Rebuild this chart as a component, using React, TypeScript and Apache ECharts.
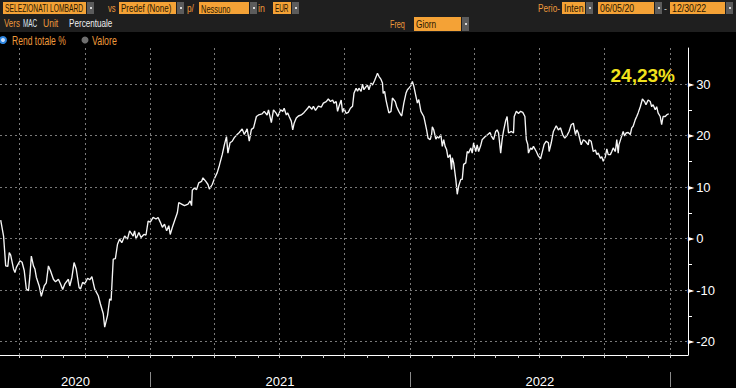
import React, { useEffect, useRef } from "react";
import * as echarts from "echarts";

// Total return (%) — SELEZIONATI LOMBARD, 06/05/20 – 12/30/22
const returns2020: [string, number][] = [
  ["2020-06-05", 3.6], ["2020-06-09", 0.5], ["2020-06-12", -5.3], ["2020-06-15", -5.4], ["2020-06-17", -2.7],
  ["2020-06-19", -3.2], ["2020-06-23", -5.9], ["2020-06-25", -6.6], ["2020-06-27", -5.6], ["2020-07-02", -4.3],
  ["2020-07-05", -4.6], ["2020-07-08", -6.2], ["2020-07-11", -9.8], ["2020-07-14", -10.1], ["2020-07-16", -7.2],
  ["2020-07-18", -3.4], ["2020-07-21", -5.3], ["2020-07-23", -5.9], ["2020-07-25", -7.5], ["2020-07-29", -9.2],
  ["2020-08-01", -11.2], ["2020-08-05", -9.2], ["2020-08-08", -8.6], ["2020-08-11", -5.3], ["2020-08-14", -6.3],
  ["2020-08-18", -7.9], ["2020-08-21", -8.4], ["2020-08-25", -7.9], ["2020-08-28", -8.8], ["2020-08-31", -9.9],
  ["2020-09-03", -8.8], ["2020-09-08", -7.9], ["2020-09-10", -9.2], ["2020-09-13", -7.5], ["2020-09-16", -4.65],
  ["2020-09-19", -5.9], ["2020-09-23", -9.5], ["2020-09-25", -9.8], ["2020-09-28", -8.5], ["2020-10-01", -8.8],
  ["2020-10-05", -7.7], ["2020-10-08", -8.0], ["2020-10-11", -7.4], ["2020-10-15", -9.8], ["2020-10-20", -11.1],
  ["2020-10-23", -12.7], ["2020-10-27", -14.6], ["2020-10-29", -17.2], ["2020-11-02", -14.9], ["2020-11-05", -11.7],
  ["2020-11-07", -12.0], ["2020-11-10", -4.0], ["2020-11-13", -3.9], ["2020-11-16", -1.1], ["2020-11-19", -0.1],
  ["2020-11-22", -0.8], ["2020-11-26", 0.5], ["2020-11-30", -0.1], ["2020-12-03", 1.5], ["2020-12-08", 0.5],
  ["2020-12-10", 1.5], ["2020-12-12", -0.1], ["2020-12-16", 1.2], ["2020-12-19", 0.2], ["2020-12-23", 0.8],
  ["2020-12-26", 0.7], ["2020-12-29", 3.4],
];

const returns2021: [string, number][] = [
  ["2021-01-01", 3.2], ["2021-01-05", 4.1], ["2021-01-09", 3.8], ["2021-01-12", 4.1], ["2021-01-15", 3.2],
  ["2021-01-18", 2.2], ["2021-01-21", 2.8], ["2021-01-24", 1.5], ["2021-01-27", 2.5], ["2021-01-29", 0.8],
  ["2021-02-01", 2.2], ["2021-02-04", 3.4], ["2021-02-08", 5.0], ["2021-02-10", 7.0], ["2021-02-14", 6.7],
  ["2021-02-18", 6.4], ["2021-02-23", 6.7], ["2021-02-26", 7.3], ["2021-02-28", 6.4], ["2021-03-01", 9.4],
  ["2021-03-04", 9.8], ["2021-03-07", 9.5], ["2021-03-10", 10.8], ["2021-03-14", 11.1], ["2021-03-16", 11.8],
  ["2021-03-20", 11.1], ["2021-03-23", 10.5], ["2021-03-25", 9.6], ["2021-03-29", 10.5], ["2021-04-01", 11.6],
  ["2021-04-05", 12.8], ["2021-04-08", 14.2], ["2021-04-12", 16.3], ["2021-04-15", 18.2], ["2021-04-18", 19.8],
  ["2021-04-20", 16.6], ["2021-04-23", 18.6], ["2021-04-26", 18.9], ["2021-04-29", 19.6], ["2021-05-03", 20.2],
  ["2021-05-06", 20.6], ["2021-05-10", 21.3], ["2021-05-13", 20.2], ["2021-05-17", 21.3], ["2021-05-20", 18.9],
  ["2021-05-23", 21.2], ["2021-05-26", 21.5], ["2021-05-30", 23.7], ["2021-06-02", 24.0], ["2021-06-07", 24.2],
  ["2021-06-10", 24.7], ["2021-06-14", 24.0], ["2021-06-16", 25.0], ["2021-06-20", 22.5], ["2021-06-23", 25.0],
  ["2021-06-27", 24.3], ["2021-06-29", 23.7], ["2021-07-03", 25.0], ["2021-07-06", 24.7], ["2021-07-08", 25.3],
  ["2021-07-11", 24.0], ["2021-07-13", 24.4], ["2021-07-15", 23.7], ["2021-07-18", 22.8], ["2021-07-20", 21.1],
  ["2021-07-22", 22.4], ["2021-07-25", 23.4], ["2021-07-28", 23.8], ["2021-08-01", 24.0], ["2021-08-05", 24.5],
  ["2021-08-10", 25.3], ["2021-08-12", 25.7], ["2021-08-16", 25.1], ["2021-08-18", 25.7], ["2021-08-21", 24.9],
  ["2021-08-25", 25.7], ["2021-08-29", 25.5], ["2021-09-01", 26.3], ["2021-09-05", 26.6], ["2021-09-08", 27.1],
  ["2021-09-11", 26.6], ["2021-09-14", 26.9], ["2021-09-16", 26.3], ["2021-09-19", 26.6], ["2021-09-21", 24.7],
  ["2021-09-23", 25.7], ["2021-09-26", 26.9], ["2021-09-28", 24.5], ["2021-09-30", 25.3], ["2021-10-03", 24.3],
  ["2021-10-06", 24.5], ["2021-10-09", 25.3], ["2021-10-12", 25.7], ["2021-10-14", 28.2], ["2021-10-17", 29.2],
  ["2021-10-19", 28.6], ["2021-10-21", 29.2], ["2021-10-24", 28.6], ["2021-10-26", 30.0], ["2021-10-28", 28.9],
  ["2021-10-31", 29.5], ["2021-11-02", 29.8], ["2021-11-04", 28.9], ["2021-11-07", 30.2], ["2021-11-09", 29.8],
  ["2021-11-12", 30.7], ["2021-11-16", 32.1], ["2021-11-18", 31.5], ["2021-11-21", 30.9], ["2021-11-23", 30.2],
  ["2021-11-24", 28.2], ["2021-11-26", 28.6], ["2021-11-28", 26.9], ["2021-11-30", 25.6], ["2021-12-02", 24.4],
  ["2021-12-05", 24.7], ["2021-12-07", 27.3], ["2021-12-11", 26.6], ["2021-12-13", 25.6], ["2021-12-16", 24.7],
  ["2021-12-18", 24.2], ["2021-12-20", 23.8], ["2021-12-23", 26.3], ["2021-12-26", 28.2], ["2021-12-28", 28.9],
  ["2021-12-30", 29.2],
];

const returns2022: [string, number][] = [
  ["2022-01-02", 29.7], ["2022-01-04", 30.5], ["2022-01-06", 29.6], ["2022-01-09", 27.6], ["2022-01-11", 26.3],
  ["2022-01-13", 27.0], ["2022-01-16", 24.7], ["2022-01-20", 23.7], ["2022-01-21", 23.1], ["2022-01-24", 21.1],
  ["2022-01-26", 19.5], ["2022-01-29", 19.2], ["2022-01-31", 20.2], ["2022-02-01", 21.7], ["2022-02-03", 21.1],
  ["2022-02-06", 19.3], ["2022-02-08", 19.8], ["2022-02-10", 19.5], ["2022-02-13", 20.2], ["2022-02-15", 17.9],
  ["2022-02-17", 19.2], ["2022-02-19", 17.9], ["2022-02-21", 17.3], ["2022-02-23", 15.7], ["2022-02-26", 16.3],
  ["2022-02-28", 13.4], ["2022-03-01", 15.7], ["2022-03-03", 14.7], ["2022-03-06", 11.5], ["2022-03-08", 8.6],
  ["2022-03-10", 10.2], ["2022-03-13", 11.5], ["2022-03-15", 11.5], ["2022-03-17", 14.4], ["2022-03-20", 14.7],
  ["2022-03-22", 16.9], ["2022-03-24", 16.6], ["2022-03-27", 17.6], ["2022-03-29", 16.6], ["2022-03-31", 18.6],
  ["2022-04-03", 16.9], ["2022-04-05", 18.2], ["2022-04-07", 16.9], ["2022-04-10", 18.1], ["2022-04-12", 19.2],
  ["2022-04-14", 19.5], ["2022-04-17", 19.9], ["2022-04-20", 20.2], ["2022-04-23", 20.6], ["2022-04-25", 19.9],
  ["2022-04-28", 19.2], ["2022-05-01", 20.8], ["2022-05-03", 21.1], ["2022-05-05", 20.5], ["2022-05-08", 16.6],
  ["2022-05-10", 19.2], ["2022-05-12", 20.9], ["2022-05-15", 22.9], ["2022-05-17", 23.7], ["2022-05-19", 20.5],
  ["2022-05-23", 20.8], ["2022-05-26", 20.5], ["2022-05-27", 23.7], ["2022-05-30", 24.7], ["2022-06-02", 24.3],
  ["2022-06-05", 24.7], ["2022-06-08", 24.5], ["2022-06-11", 23.7], ["2022-06-13", 19.2], ["2022-06-15", 18.3],
  ["2022-06-16", 16.6], ["2022-06-19", 17.6], ["2022-06-21", 17.3], ["2022-06-23", 17.9], ["2022-06-27", 16.9],
  ["2022-06-30", 16.0], ["2022-07-03", 15.5], ["2022-07-05", 16.6], ["2022-07-08", 18.3], ["2022-07-11", 18.9],
  ["2022-07-14", 18.6], ["2022-07-15", 16.9], ["2022-07-18", 18.6], ["2022-07-21", 20.8], ["2022-07-25", 21.9],
  ["2022-07-28", 21.1], ["2022-07-31", 21.5], ["2022-08-03", 20.2], ["2022-08-06", 19.5], ["2022-08-09", 20.0],
  ["2022-08-12", 20.8], ["2022-08-15", 22.1], ["2022-08-18", 22.4], ["2022-08-21", 20.2], ["2022-08-23", 21.1],
  ["2022-08-25", 20.5], ["2022-08-29", 18.2], ["2022-09-01", 19.2], ["2022-09-04", 18.9], ["2022-09-08", 18.2],
  ["2022-09-09", 19.2], ["2022-09-12", 18.9], ["2022-09-15", 16.9], ["2022-09-18", 17.2], ["2022-09-20", 16.3],
  ["2022-09-22", 16.6], ["2022-09-25", 15.6], ["2022-09-27", 15.9], ["2022-09-29", 15.0], ["2022-10-02", 15.9],
  ["2022-10-04", 17.4], ["2022-10-06", 16.3], ["2022-10-09", 16.3], ["2022-10-11", 16.9], ["2022-10-13", 17.6],
  ["2022-10-16", 16.9], ["2022-10-18", 19.2], ["2022-10-20", 16.6], ["2022-10-21", 18.2], ["2022-10-24", 19.5],
  ["2022-10-27", 20.8], ["2022-10-29", 19.9], ["2022-10-31", 20.5], ["2022-11-03", 20.6], ["2022-11-06", 20.2],
  ["2022-11-08", 21.5], ["2022-11-10", 21.8], ["2022-11-13", 23.1], ["2022-11-15", 23.7], ["2022-11-17", 24.4],
  ["2022-11-20", 25.6], ["2022-11-23", 27.1], ["2022-11-26", 26.6], ["2022-11-28", 26.0], ["2022-12-01", 26.9],
  ["2022-12-04", 26.6], ["2022-12-06", 25.6], ["2022-12-08", 26.0], ["2022-12-11", 25.0], ["2022-12-13", 25.6],
  ["2022-12-15", 24.4], ["2022-12-18", 23.7], ["2022-12-20", 22.1], ["2022-12-22", 23.7], ["2022-12-25", 23.7],
  ["2022-12-27", 24.0], ["2022-12-30", 24.23],
];

const yMajorTicks = [-20, -10, 0, 10, 20, 30];
const yMinorTicks = [-20, -15, -10, -5, 0, 5, 10, 15, 20, 25, 30];
const quarterStarts = [
  "2020-07-01", "2020-10-01", "2021-01-01", "2021-04-01", "2021-07-01", "2021-10-01",
  "2022-01-01", "2022-04-01", "2022-07-01", "2022-10-01", "2023-01-01",
];
const yearStarts = ["2021-01-01", "2022-01-01", "2023-01-01"];
const yearNames = ["2020", "2021", "2022"];
const yearLabelDates = ["2020-09-18", "2021-07-02", "2022-07-02"];
const lastValueLabel = "24,23%";
const axisMinDate = "2020-06-04";
const axisMaxDate = "2023-01-26";

function ts(s: string): number {
  const [y, m, d] = s.split("-").map(Number);
  return new Date(y, m - 1, d).getTime();
}

function monthStarts(): number[] {
  const out: number[] = [];
  for (let y = 2020; y <= 2023; y++) {
    for (let m = 0; m < 12; m++) {
      const t = new Date(y, m, 1).getTime();
      if (t >= ts("2020-07-01") && t <= ts("2023-01-01")) out.push(t);
    }
  }
  return out;
}

const ORANGE = "#f4a236";
const ORANGE_TXT = "#ee9a3c";
const HDR_FONT = '"Liberation Sans", Arial, sans-serif';
const AX_FONT = '"Liberation Sans", Arial, sans-serif';

function field(x: number, y: number, w: number, h: number, text: string, sx: number): any[] {
  return [
    { type: "rect", shape: { x, y, width: w, height: h }, style: { fill: ORANGE } },
    { type: "rect", shape: { x: x + w + 1, y, width: 7, height: h }, style: { fill: "#5c5c5c" } },
    { type: "rect", shape: { x: x + w + 4, y: y + h / 2 - 1, width: 2, height: 2 }, style: { fill: "#d8d8d8" } },
    {
      type: "text", x: x + 2, y: y + h / 2 + 0.5, scaleX: sx,
      style: { text, fill: "#2b1800", font: `11px ${HDR_FONT}`, verticalAlign: "middle", align: "left" },
    },
  ];
}

function label(x: number, y: number, text: string, fill: string, sx: number, size = 11): any {
  return {
    type: "text", x, y, scaleX: sx,
    style: { text, fill, font: `${size}px ${HDR_FONT}`, verticalAlign: "middle", align: "left" },
  };
}

export default function App() {
  const ref = useRef<HTMLDivElement>(null);

  useEffect(() => {
    if (!ref.current) return;
    const chart = echarts.init(ref.current, null, { renderer: "svg" });
    const data = [...returns2020, ...returns2021, ...returns2022].map(([d, v]) => [ts(d), v]);
    const yearMap = new Map<number, string>();
    yearLabelDates.forEach((d, i) => yearMap.set(ts(d), yearNames[i]));

    const gridStyle = { color: "#7a7a7a", type: [2, 3] as any, width: 1 };

    const graphic: any[] = [
      { type: "rect", shape: { x: 0, y: 0, width: 736, height: 32 }, style: { fill: "#1f1f1f" }, z: -1 },
      ...field(3, 2, 83, 12, "SELEZIONATI LOMBARD", 0.61),
      label(108, 8, "vs", ORANGE_TXT, 0.7),
      ...field(119, 2, 57, 12, "Predef (None)", 0.73),
      label(187, 8, "p/", ORANGE_TXT, 0.75),
      ...field(199, 2, 50, 12, "Nessuno", 0.68),
      label(258, 8, "in", ORANGE_TXT, 0.8),
      ...field(273, 2, 18, 12, "EUR", 0.58),
      label(4, 23, "Vers", ORANGE_TXT, 0.72),
      label(23, 23, "MAC", "#dfe6f2", 0.58),
      label(43, 23, "Unit", ORANGE_TXT, 0.78),
      label(69, 23, "Percentuale", "#f0f0f0", 0.74),
      label(538, 8, "Perio-", ORANGE_TXT, 0.75),
      ...field(562, 2, 23, 12, "Inten", 0.8),
      ...field(598, 2, 56, 12, "06/05/20", 0.8),
      label(664, 8, "-", "#bdbdbd", 0.8),
      ...field(670, 2, 55, 12, "12/30/22", 0.8),
      label(390, 24, "Freq", ORANGE_TXT, 0.66),
      ...field(414, 17, 47, 14, "Giorn", 0.75),
      { type: "circle", shape: { cx: 3, cy: 40, r: 3 }, style: { fill: "#cfe3ff", stroke: "#2f86e0", lineWidth: 2 } },
      label(12, 40, "Rend totale %", ORANGE_TXT, 0.66, 13),
      { type: "circle", shape: { cx: 85, cy: 40, r: 3.5 }, style: { fill: "#6f6f6f" } },
      label(92, 40, "Valore", ORANGE_TXT, 0.68, 13),
      {
        type: "text", x: 675, y: 75,
        style: { text: lastValueLabel, fill: "#f2e21c", font: `bold 19px ${AX_FONT}`, align: "right", verticalAlign: "middle" },
      },
    ];

    chart.setOption({
      animation: false,
      backgroundColor: "#000000",
      grid: { left: 0, right: 48, top: 48, bottom: 32, containLabel: false },
      xAxis: [
        {
          type: "value",
          min: ts(axisMinDate),
          max: ts(axisMaxDate),
          position: "bottom",
          axisLine: { show: true, onZero: false, lineStyle: { color: "#ffffff", width: 1 } },
          axisTick: { show: true, customValues: monthStarts(), length: 3, lineStyle: { color: "#d0d0d0" } },
          axisLabel: { show: false },
          splitLine: { show: false },
        },
        {
          type: "value",
          min: ts(axisMinDate),
          max: ts(axisMaxDate),
          position: "bottom",
          offset: 17,
          axisLine: { show: false, onZero: false },
          axisTick: { show: true, customValues: yearStarts.map(ts), length: 15, lineStyle: { color: "#8a8a8a" } },
          axisLabel: {
            show: true,
            customValues: yearLabelDates.map(ts),
            formatter: (v: number) => yearMap.get(v) ?? "",
            color: "#ffffff",
            fontFamily: AX_FONT,
            fontSize: 13,
            margin: 3,
          },
          splitLine: { show: false },
        },
      ],
      yAxis: {
        type: "value",
        position: "right",
        min: -22.6,
        max: 37,
        axisLine: { show: true, onZero: false, lineStyle: { color: "#ffffff", width: 1 } },
        axisTick: { show: true, customValues: yMinorTicks, length: 4, lineStyle: { color: "#ffffff" } },
        axisLabel: {
          show: true,
          customValues: yMajorTicks,
          margin: 0,
          formatter: (v: number) => `{t|►}{n|${v}}`,
          rich: {
            t: { color: "#ffffff", fontSize: 8, fontFamily: "DejaVu Sans" },
            n: { color: "#ffffff", fontSize: 13, fontFamily: AX_FONT, padding: [0, 0, 0, 2] },
          },
        },
        splitLine: { show: false },
      },
      series: [
        {
          type: "line",
          data: [],
          z: 1,
          silent: true,
          markLine: {
            silent: true,
            symbol: ["none", "none"],
            label: { show: false },
            lineStyle: gridStyle,
            emphasis: { disabled: true },
            data: [
              ...yMajorTicks.map((v) => ({ yAxis: v })),
              ...quarterStarts.map((d) => ({ xAxis: ts(d) })),
            ],
          },
        },
        {
          type: "line",
          name: "Rend totale %",
          data,
          z: 3,
          showSymbol: false,
          symbol: "none",
          lineStyle: { color: "#f6f6f6", width: 1.35 },
          emphasis: { disabled: true },
        },
      ],
      graphic,
    });
    return () => chart.dispose();
  }, []);

  return (
    <div
      ref={ref}
      style={{ position: "fixed", left: 0, top: 0, width: 736, height: 388 }}
    />
  );
}
